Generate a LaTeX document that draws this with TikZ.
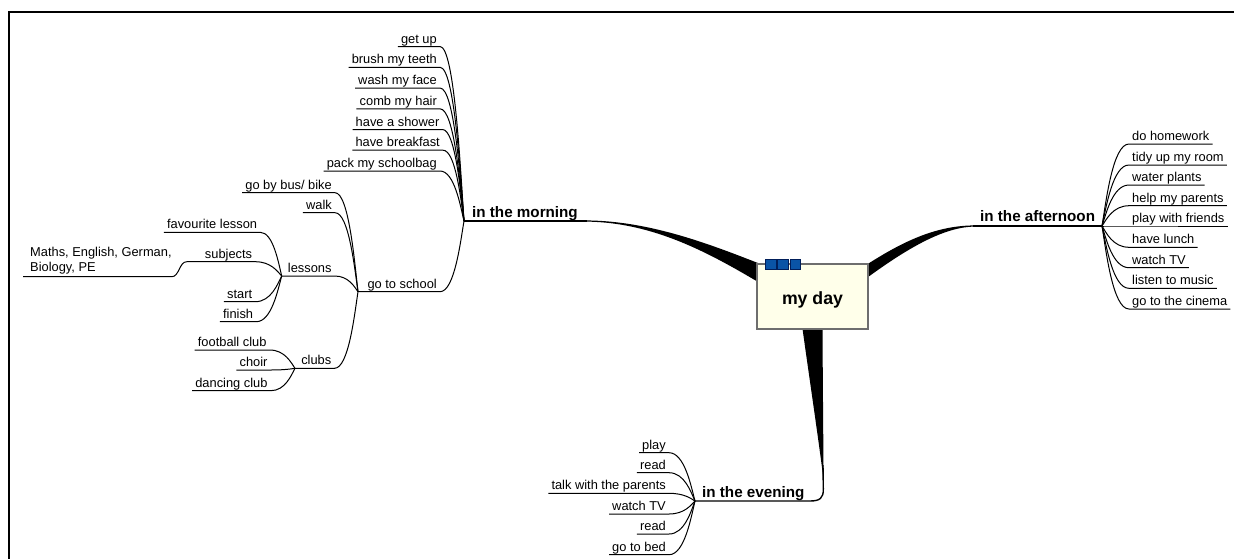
\documentclass[tikz,border=0pt]{standalone}
\usepackage{fontspec}
\setmainfont{Liberation Sans}
\usetikzlibrary{calc}
\definecolor{boxfill}{RGB}{255,255,234}
\definecolor{boxline}{RGB}{110,110,110}
\definecolor{tabfill}{RGB}{10,84,166}
\definecolor{tabline}{RGB}{0,30,90}
\begin{document}
\begin{tikzpicture}[x=1pt,y=-1pt,
  leaf/.style={font=\fontsize{12.85}{14.7}\selectfont, inner xsep=3pt, inner ysep=3.2pt, text depth=0pt},
  lleaf/.style={leaf, anchor=south east},
  rleaf/.style={leaf, anchor=south west},
  conn/.style={draw=black, line width=1pt},
  branch/.style={font=\fontsize{15.2}{18}\selectfont\bfseries, inner sep=0pt, anchor=base west},
  rib/.style={fill=black, draw=none},
  mainline/.style={draw=black, line width=1.4pt},
  fan/.style={to path={let \p1=(\tikztostart), \p2=(\tikztotarget) in .. controls ({\x1+0.15*(\x2-\x1)},{\y1+0.3*(\y2-\y1)}) and ({\x1+0.4*(\x2-\x1)},\y2) .. (\tikztotarget)}},
  scurve/.style={to path={let \p1=(\tikztostart), \p2=(\tikztotarget) in .. controls ({0.5*\x1+0.5*\x2},\y1) and ({0.5*\x1+0.5*\x2},\y2) .. (\tikztotarget)}},
]
\useasboundingbox (0,0) rectangle (1234,558);
\fill[white] (0,0) rectangle (1234,558);
% frame
\draw[line width=2pt] (1240,12) -- (9,12) -- (9,565);

% junctions
\coordinate (jmorning) at (464,221);
\coordinate (mend) at (587,221);
\coordinate (jafternoon) at (1102,226);
\coordinate (aend) at (973,226);
\coordinate (jevening) at (695,501);
\coordinate (eend) at (810,501);
\coordinate (jschool) at (358,291.7);
\coordinate (jlessons) at (281.7,276);
\coordinate (jclubs) at (295,368.3);
\coordinate (jsubjects) at (186.7,261.7);

% main ribbons
\fill[rib] (584,220.4) .. controls (660,220.4) and (730,252.7) .. (790,275.5) -- (790,301) .. controls (730,265.6) and (665,221.6) .. (584,221.6) -- cycle;
\fill[rib] (975,225.4) .. controls (925,225.4) and (885,252) .. (840,282.3) -- (840,298) .. controls (885,263.8) and (935,226.6) .. (975,226.6) -- cycle;
\fill[rib] (798,296) .. controls (808,370) and (818,435) .. (823.3,478) .. controls (823.6,420) and (822,360) .. (823,296) -- cycle;
\draw[mainline] (823,465) -- (823.3,489) .. controls (823.5,498) and (820,501) .. (eend) -- (jevening);
\draw[mainline] (jmorning) -- (mend);
\draw[mainline] (aend) -- (jafternoon);

% central topic
\node[draw=boxline, fill=boxfill, line width=1.2pt, minimum width=111pt, minimum height=65pt,
      font=\fontsize{17.7}{20}\selectfont\bfseries, text height=15pt, text depth=0pt] (center) at (812.5,296.5) {my day};
\foreach \xa in {765.7,777.7,790}
  \draw[fill=tabfill, draw=tabline, line width=0.8pt] (\xa,259) rectangle ++(10.5,10);

% branch labels
\node[branch] (morning) at (472,217.3) {in the morning};
\node[branch] (afternoon) at (980,221.7) {in the afternoon};
\node[branch] (evening) at (702,497) {in the evening};

% morning leaves
\node[lleaf] (gu) at (440,46.5) {get up};
\node[lleaf] (bt) at (440,67.3) {brush my teeth};
\node[lleaf] (wf) at (440,88) {wash my face};
\node[lleaf] (ch) at (440,108.8) {comb my hair};
\node[lleaf] (sh) at (442.5,129.5) {have a shower};
\node[lleaf] (bf) at (443,150.2) {have breakfast};
\node[lleaf] (pk) at (440,171) {pack my schoolbag};
\node[lleaf] (school) at (440,291.7) {go to school};
\foreach \nm in {gu,bt,wf,ch,sh,bf,pk}
  \draw[conn] (jmorning) to[fan] (\nm.south east) -- (\nm.south west);
\draw[conn] (jmorning) to[fan] (school.south east) -- (jschool);

% go to school children
\node[lleaf] (bus) at (335,192.7) {go by bus/ bike};
\node[lleaf] (walk) at (335,212.7) {walk};
\node[lleaf] (lessons) at (334.7,276) {lessons};
\node[lleaf] (clubs) at (334.5,368.3) {clubs};
\foreach \nm in {bus,walk}
  \draw[conn] (jschool) to[fan] (\nm.south east) -- (\nm.south west);
\draw[conn] (jschool) to[fan] (lessons.south east) -- (jlessons);
\draw[conn] (jschool) to[fan] (clubs.south east) -- (jclubs);

% lessons children
\node[lleaf] (fav) at (260.3,232.3) {favourite lesson};
\node[lleaf] (subj) at (255.3,261.7) {subjects};
\node[lleaf] (start) at (255.3,301.7) {start};
\node[lleaf] (finish) at (256.3,321.7) {finish};
\foreach \nm in {fav,start,finish}
  \draw[conn] (jlessons) to[fan] (\nm.south east) -- (\nm.south west);
\draw[conn] (jlessons) to[fan] (subj.south east) -- (jsubjects);
\node[font=\fontsize{12.85}{14.7}\selectfont, align=left, inner xsep=0pt, inner ysep=5.5pt, text depth=0pt, anchor=south west] (maths) at (30,276.7) {Maths, English, German,\\Biology, PE};
\draw[conn] (jsubjects) to[scurve] (maths.south east) -- ([xshift=-7pt]maths.south west);

% clubs children
\node[lleaf] (foot) at (269.7,350) {football club};
\node[lleaf] (choir) at (270.7,370) {choir};
\node[lleaf] (dance) at (270.7,390.7) {dancing club};
\foreach \nm in {foot,choir,dance}
  \draw[conn] (jclubs) to[fan] (\nm.south east) -- (\nm.south west);

% afternoon children
\node[rleaf] (a1) at (1129,144) {do homework};
\node[rleaf] (a2) at (1129,165) {tidy up my room};
\node[rleaf] (a3) at (1129,185) {water plants};
\node[rleaf] (a4) at (1129,205.7) {help my parents};
\node[rleaf] (a5) at (1129,226) {play with friends};
\node[rleaf] (a6) at (1129,247.3) {have lunch};
\node[rleaf] (a7) at (1129,267.7) {watch TV};
\node[rleaf] (a8) at (1129,288.3) {listen to music};
\node[rleaf] (a9) at (1129,309) {go to the cinema};
\foreach \nm in {a1,a2,a3,a4,a5,a6,a7,a8,a9}
  \draw[conn] (jafternoon) to[fan] (\nm.south west) -- (\nm.south east);

% evening children
\node[lleaf] (e1) at (669,452.7) {play};
\node[lleaf] (e2) at (669,472.7) {read};
\node[lleaf] (e3) at (669,493.3) {talk with the parents};
\node[lleaf] (e4) at (669,514) {watch TV};
\node[lleaf] (e5) at (669,534) {read};
\node[lleaf] (e6) at (669,554.7) {go to bed};
\foreach \nm in {e1,e2,e3,e4,e5,e6}
  \draw[conn] (jevening) to[fan] (\nm.south east) -- (\nm.south west);
\end{tikzpicture}
\end{document}
